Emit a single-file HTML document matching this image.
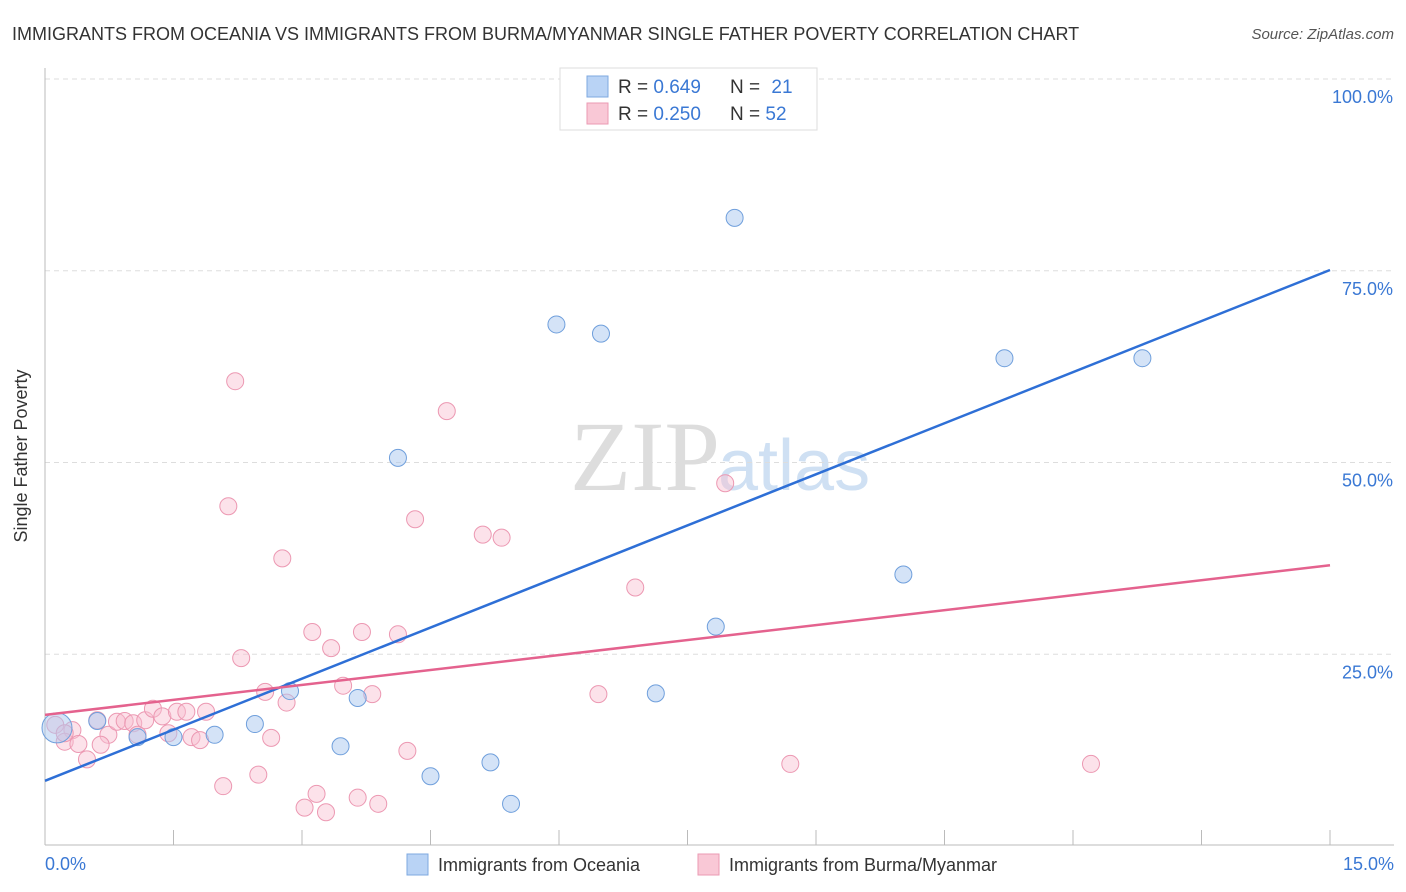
<!DOCTYPE html>
<html><head><meta charset="utf-8"><style>
body{margin:0;background:#fff;font-family:"Liberation Sans",sans-serif}
svg{display:block}
</style></head><body>
<svg width="1406" height="892" id="svg">
<text x="12" y="40" font-size="18" fill="#333">IMMIGRANTS FROM OCEANIA VS IMMIGRANTS FROM BURMA/MYANMAR SINGLE FATHER POVERTY CORRELATION CHART</text>
<text x="1394" y="39" font-size="15" fill="#555" font-style="italic" text-anchor="end">Source: ZipAtlas.com</text>
<text x="720" y="490" font-size="100" fill="#ddd" font-family="Liberation Serif,serif" text-anchor="end">ZIP</text>
<text x="718" y="490" font-size="72" fill="#cfe0f3">atlas</text>
<g id="grid"></g>
<line x1="45" y1="68" x2="45" y2="845" stroke="#bbb"/>
<line x1="45" y1="845" x2="1394" y2="845" stroke="#bbb"/>
<text x="27" y="456" font-size="18" fill="#333" transform="rotate(-90 27 456)" text-anchor="middle">Single Father Poverty</text>
<text x="45" y="870" font-size="18" fill="#3a78d4">0.0%</text>
<text x="1394" y="870" font-size="18" fill="#3a78d4" text-anchor="end">15.0%</text>
<g id="pts"></g>
<g id="lines"></g>
<g>
<rect x="560" y="68" width="257" height="62" fill="#fff" stroke="#ddd"/>
<rect x="587" y="76" width="21" height="21" fill="#b9d3f5" stroke="#7ea8e0"/>
<rect x="587" y="103" width="21" height="21" fill="#f9c8d6" stroke="#eb9ab3"/>
<text x="618" y="93" font-size="19" fill="#333">R = <tspan fill="#3a78d4">0.649</tspan></text>
<text x="730" y="93" font-size="19" fill="#333">N = <tspan fill="#3a78d4" dx="6">21</tspan></text>
<text x="618" y="120" font-size="19" fill="#333">R = <tspan fill="#3a78d4">0.250</tspan></text>
<text x="730" y="120" font-size="19" fill="#333">N = <tspan fill="#3a78d4">52</tspan></text>
</g>
<g>
<rect x="407" y="854" width="21" height="21" fill="#b9d3f5" stroke="#7ea8e0"/>
<text x="438" y="871" font-size="18" fill="#333">Immigrants from Oceania</text>
<rect x="698" y="854" width="21" height="21" fill="#f9c8d6" stroke="#eb9ab3"/>
<text x="729" y="871" font-size="18" fill="#333">Immigrants from Burma/Myanmar</text>
</g>
</svg>
<script>
const yTicks=[25,50,75,100];
const yTickLabels=["25.0%","50.0%","75.0%","100.0%"];
const xTicks=[0,1.5,3,4.5,6,7.5,9,10.5,12,13.5,15];
const oceaniaX=[0.14,0.61,1.08,1.5,1.98,2.45,2.86,3.45,3.65,4.12,4.5,5.2,5.44,5.97,6.49,7.13,7.83,8.05,10.02,11.2,12.81];
const oceaniaY=[15.4,16.3,14.2,14.2,14.5,15.9,20.2,13.0,19.3,50.6,9.1,10.9,5.5,68.0,66.8,19.9,28.6,81.9,35.4,63.6,63.6];
const burmaX=[0.12,0.32,0.49,0.23,0.39,0.61,0.74,0.65,0.84,0.93,1.03,1.17,1.26,1.37,1.54,1.65,1.88,1.08,1.44,1.71,1.81,2.64,2.57,2.82,3.48,3.82,2.08,2.49,3.03,3.17,3.28,3.65,3.89,4.23,2.22,4.69,2.14,4.32,2.77,5.11,5.33,7.94,2.29,3.12,3.70,4.12,3.34,6.89,6.46,8.70,12.21,0.23];
const burmaY=[15.8,15.1,11.3,13.6,13.3,16.4,14.5,13.2,16.2,16.3,16.0,16.4,17.9,16.9,17.5,17.5,17.5,14.5,14.7,14.2,13.8,14.1,20.1,18.7,20.9,19.8,7.8,9.3,5.0,6.8,4.4,6.3,5.5,12.4,60.6,56.7,44.3,42.6,37.5,40.6,40.2,47.3,24.5,27.9,27.9,27.6,25.8,33.7,19.8,10.7,10.7,14.7];
const oceaniaLine=[8.5,75.1];
const burmaLine=[17.1,36.6];
const NS="http://www.w3.org/2000/svg";
const X=v=>45+v/15*1285, Y=v=>846-v/100*767;
function mk(t,a,p){const e=document.createElementNS(NS,t);for(const k in a)e.setAttribute(k,a[k]);p.appendChild(e);return e;}
const grid=document.getElementById('grid'),pts=document.getElementById('pts'),lines=document.getElementById('lines');
yTicks.forEach((v,i)=>{
 const l=mk('line',{x1:45,x2:1394,y1:Y(v),y2:Y(v),stroke:'#ddd','stroke-dasharray':'5,4'},grid);
 
 
 const t=mk('text',{x:1393,y:Y(v)+24,'font-size':18,fill:'#3a78d4','text-anchor':'end'},grid);
 t.textContent=yTickLabels[i];
 
 
});
xTicks.forEach(v=>{
 const l=mk('line',{x1:X(v),x2:X(v),y1:830,y2:845,stroke:'#bbb'},grid);
 
 
});
burmaX.forEach((v,i)=>{
 const c=mk('circle',{cx:X(v),cy:Y(burmaY[i]),r:8.5,fill:'rgba(249,190,208,0.45)',stroke:'#ec98b2','stroke-width':1},pts);
 
 
});
oceaniaX.forEach((v,i)=>{
 const c=mk('circle',{cx:X(v),cy:Y(oceaniaY[i]),r:i==0?15:8.5,fill:'rgba(170,200,240,0.5)',stroke:'#6f9fdc','stroke-width':1},pts);
 
 
});
const bl=mk('line',{x1:X(0),y1:Y(oceaniaLine[0]),x2:X(15),y2:Y(oceaniaLine[1]),stroke:'#2e6fd6','stroke-width':2.5},lines);


const pl=mk('line',{x1:X(0),y1:Y(burmaLine[0]),x2:X(15),y2:Y(burmaLine[1]),stroke:'#e4628e','stroke-width':2.5},lines);


</script>
</body></html>
